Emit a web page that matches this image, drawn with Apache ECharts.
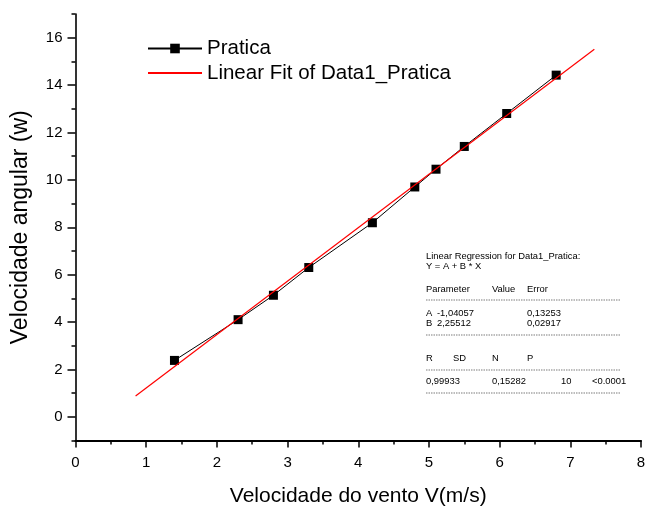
<!DOCTYPE html>
<html>
<head>
<meta charset="utf-8">
<script src="https://cdn.jsdelivr.net/npm/echarts@6/dist/echarts.min.js"></script>
<style>html,body{margin:0;padding:0;background:#fff}#c{width:646px;height:506px}</style>
</head>
<body>
<div id="c"></div>
<script>
// Data
var windSpeed = [1.4, 2.3, 2.8, 3.3, 4.2, 4.8, 5.1, 5.5, 6.1, 6.8];
var angularVel = [2.38, 4.1, 5.13, 6.3, 8.19, 9.7, 10.45, 11.41, 12.8, 14.42];
var fitX = [0.85, 7.34];
var fitY = [0.88, 15.51];
var yMajorTicks = [0, 2, 4, 6, 8, 10, 12, 14, 16];
var yMinorTicks = [-1, 1, 3, 5, 7, 9, 11, 13, 15, 17];
var seriesNames = ['Pratica', 'Linear Fit of Data1_Pratica'];
var regressionRows = [
  ['Linear Regression for Data1_Pratica:'],
  ['Y = A + B * X'],
  ['Parameter', 'Value', 'Error'],
  ['A', '-1,04057', '0,13253'],
  ['B', '2,25512', '0,02917'],
  ['R', 'SD', 'N', 'P'],
  ['0,99933', '0,15282', '10', '<0.0001']
];

var FONT = 'Liberation Sans, Arial, sans-serif';
var chart = echarts.init(document.getElementById('c'), null, {renderer: 'canvas'});

function txt(x, y, s) {
  return {type: 'text', left: x, top: y, style: {text: s, fontSize: 9.4, fontFamily: FONT, fill: '#000'}, silent: true};
}
function dash(y) {
  return {type: 'line', shape: {x1: 426, y1: y, x2: 620, y2: y}, style: {stroke: '#222', lineWidth: 0.6, lineDash: [1.5, 1]}, silent: true};
}
var g = [];
g.push(txt(426, 252, regressionRows[0][0]));
g.push(txt(426, 262, regressionRows[1][0]));
g.push(txt(426, 285, regressionRows[2][0]));
g.push(txt(492, 285, regressionRows[2][1]));
g.push(txt(527, 285, regressionRows[2][2]));
g.push(dash(300));
g.push(txt(426, 309, regressionRows[3][0]));
g.push(txt(437, 309, regressionRows[3][1]));
g.push(txt(527, 309, regressionRows[3][2]));
g.push(txt(426, 319, regressionRows[4][0]));
g.push(txt(437, 319, regressionRows[4][1]));
g.push(txt(527, 319, regressionRows[4][2]));
g.push(dash(335));
g.push(txt(426, 354, regressionRows[5][0]));
g.push(txt(453, 354, regressionRows[5][1]));
g.push(txt(492, 354, regressionRows[5][2]));
g.push(txt(527, 354, regressionRows[5][3]));
g.push(dash(370));
g.push(txt(426, 377, regressionRows[6][0]));
g.push(txt(492, 377, regressionRows[6][1]));
g.push(txt(561, 377, regressionRows[6][2]));
g.push(txt(592, 377, regressionRows[6][3]));
g.push(dash(393));

var option = {
  backgroundColor: '#fff',
  animation: false,
  textStyle: {fontFamily: FONT, color: '#000'},
  grid: {left: 75.5, right: 5, top: 14, bottom: 65.5, containLabel: false, outerBoundsMode: 'none'},
  legend: {
    orient: 'vertical', left: 142, top: 33,
    itemWidth: 54, itemHeight: 12, itemGap: 3.5,
    textStyle: {fontSize: 20.5, fontFamily: FONT, color: '#000'},
    data: [
      {name: seriesNames[0]},
      {name: seriesNames[1], itemStyle: {opacity: 0}}
    ]
  },
  xAxis: {
    type: 'value', min: 0, max: 8, interval: 1,
    name: 'Velocidade do vento V(m/s)', nameLocation: 'middle', nameGap: 45,
    nameTextStyle: {fontSize: 21, fontFamily: FONT, color: '#000'},
    axisLine: {show: true, onZero: false, lineStyle: {color: '#000', width: 2}},
    axisTick: {show: true, inside: false, length: 7, lineStyle: {color: '#000', width: 1.5}},
    minorTick: {show: true, splitNumber: 2, length: 4, lineStyle: {color: '#000', width: 1.5}},
    axisLabel: {fontSize: 15, fontFamily: FONT, color: '#000', margin: 15},
    splitLine: {show: false}
  },
  yAxis: [{
    type: 'value', min: -1, max: 17,
    name: 'Velocidade angular (w)', nameLocation: 'middle', nameGap: 43,
    nameTextStyle: {fontSize: 23, fontFamily: FONT, color: '#000'},
    axisLine: {show: true, onZero: false, lineStyle: {color: '#000', width: 1.6}},
    axisTick: {show: true, inside: false, length: 8, customValues: yMajorTicks, lineStyle: {color: '#000', width: 1.5}},
    axisLabel: {fontSize: 15, fontFamily: FONT, color: '#000', margin: 13, customValues: yMajorTicks},
    splitLine: {show: false}
  }, {
    type: 'value', min: -1, max: 17, position: 'left',
    axisLine: {show: false},
    axisTick: {show: true, inside: false, length: 4, customValues: yMinorTicks, lineStyle: {color: '#000', width: 1.5}},
    axisLabel: {show: false},
    splitLine: {show: false}
  }],
  series: [{
    name: seriesNames[0], type: 'line',
    data: windSpeed.map(function (x, i) { return [x, angularVel[i]]; }),
    symbol: 'rect', symbolSize: 9,
    itemStyle: {color: '#000'},
    lineStyle: {color: '#000', width: 1},
    z: 3
  }, {
    name: seriesNames[1], type: 'line',
    data: fitX.map(function (x, i) { return [x, fitY[i]]; }),
    showSymbol: false, symbol: 'none',
    itemStyle: {color: '#ff0000'},
    lineStyle: {color: '#ff0000', width: 1.2},
    z: 4
  }],
  graphic: g
};
chart.setOption(option);
</script>
</body>
</html>
